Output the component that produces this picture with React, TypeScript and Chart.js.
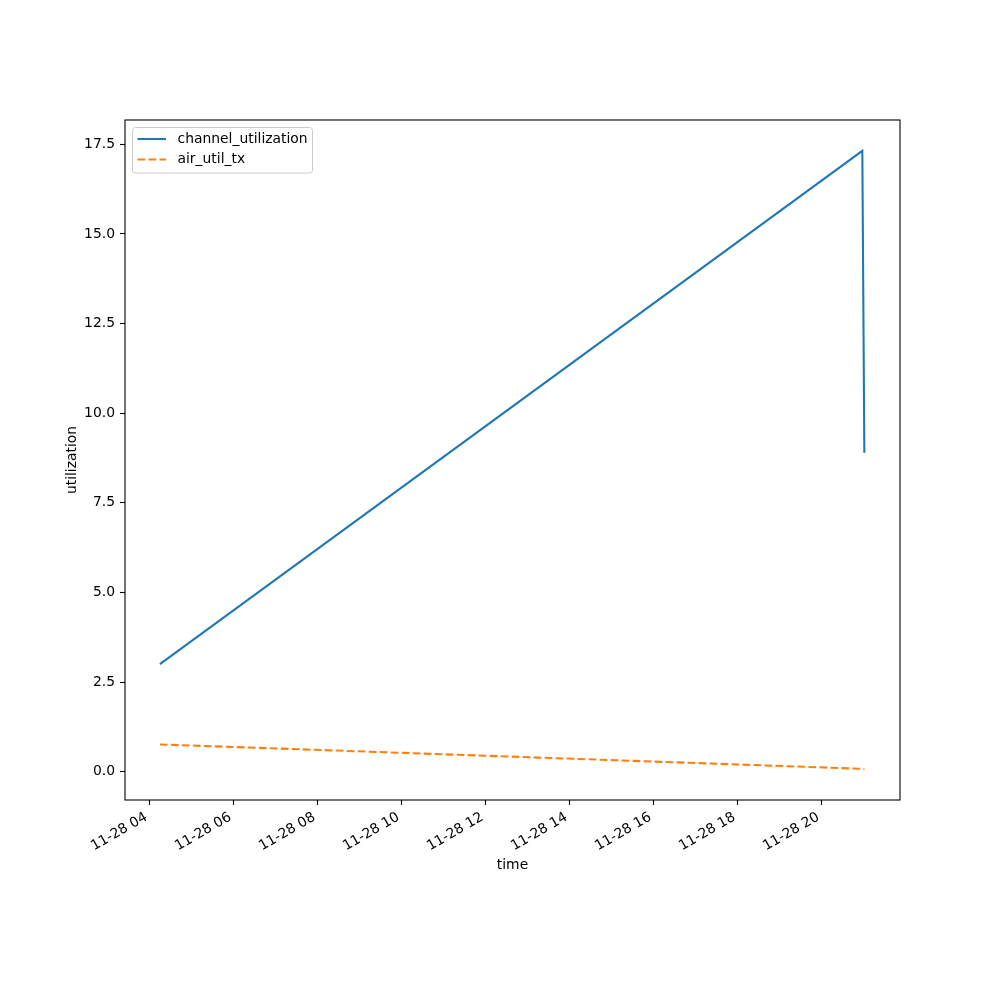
import React, { useEffect, useRef } from "react";
import { Chart, registerables } from "chart.js";

Chart.register(...registerables);

// ---- data ----
const timeHours = [4.252, 20.976, 21.024]; // hours of day on 11-28
const channelUtilization = [3.0, 17.32, 8.9];
const airUtilTx = [0.76, 0.08, 0.07];
const xTickHours = [4, 6, 8, 10, 12, 14, 16, 18, 20];
const yTickValues = [0, 2.5, 5, 7.5, 10, 12.5, 15, 17.5];
const datePrefix = "11-28";
const seriesNames = ["channel_utilization", "air_util_tx"];
const xAxisTitle = "time";
const yAxisTitle = "utilization";

const FONT = "'DejaVu Sans', sans-serif";
const FONT_SIZE = 13.9;
const BLUE = "#1f77b4";
const ORANGE = "#ff7f0e";

const pad2 = (n: number) => (n < 10 ? "0" + n : "" + n);

const framePlugin = {
  id: "frameAndLegend",
  afterDraw(chart: any) {
    const { ctx, chartArea } = chart;
    ctx.save();
    // axes frame
    ctx.strokeStyle = "#000";
    ctx.lineWidth = 1.1;
    ctx.strokeRect(
      chartArea.left,
      chartArea.top,
      chartArea.right - chartArea.left,
      chartArea.bottom - chartArea.top
    );
    // legend
    const bx = chartArea.left + 7.5;
    const by = chartArea.top + 7.5;
    const bw = 180;
    const bh = 45.5;
    const r = 3;
    ctx.beginPath();
    ctx.moveTo(bx + r, by);
    ctx.lineTo(bx + bw - r, by);
    ctx.arcTo(bx + bw, by, bx + bw, by + r, r);
    ctx.lineTo(bx + bw, by + bh - r);
    ctx.arcTo(bx + bw, by + bh, bx + bw - r, by + bh, r);
    ctx.lineTo(bx + r, by + bh);
    ctx.arcTo(bx, by + bh, bx, by + bh - r, r);
    ctx.lineTo(bx, by + r);
    ctx.arcTo(bx, by, bx + r, by, r);
    ctx.closePath();
    ctx.fillStyle = "rgba(255,255,255,0.8)";
    ctx.fill();
    ctx.strokeStyle = "#cccccc";
    ctx.lineWidth = 1;
    ctx.stroke();
    const ds = chart.data.datasets;
    ds.forEach((d: any, i: number) => {
      const y = by + 11.5 + i * 20.5;
      ctx.beginPath();
      ctx.strokeStyle = d.borderColor;
      ctx.lineWidth = d.borderWidth;
      ctx.setLineDash(d.borderDash || []);
      ctx.moveTo(bx + 5, y);
      ctx.lineTo(bx + 33.5, y);
      ctx.stroke();
      ctx.setLineDash([]);
      ctx.fillStyle = "#000";
      ctx.font = `${FONT_SIZE}px ${FONT}`;
      ctx.textAlign = "left";
      ctx.textBaseline = "middle";
      ctx.fillText(d.label, bx + 45, y);
    });
    ctx.restore();
  },
};

export default function App() {
  const canvasRef = useRef<HTMLCanvasElement | null>(null);

  useEffect(() => {
    if (!canvasRef.current) return;
    const chart = new Chart(canvasRef.current, {
      type: "line",
      data: {
        datasets: [
          {
            label: seriesNames[0],
            data: timeHours.map((t, i) => ({ x: t, y: channelUtilization[i] })),
            borderColor: BLUE,
            backgroundColor: BLUE,
            borderWidth: 2.08,
            pointRadius: 0,
            tension: 0,
            fill: false,
          },
          {
            label: seriesNames[1],
            data: timeHours.map((t, i) => ({ x: t, y: airUtilTx[i] })),
            borderColor: ORANGE,
            backgroundColor: ORANGE,
            borderWidth: 2.08,
            borderDash: [7.7, 3.3],
            pointRadius: 0,
            tension: 0,
            fill: false,
          },
        ],
      },
      options: {
        responsive: false,
        animation: false,
        events: [],
        layout: { padding: { left: 0, top: 120, right: 100, bottom: 0 } },
        plugins: {
          legend: { display: false },
          tooltip: { enabled: false },
          title: { display: false },
        },
        scales: {
          x: {
            type: "linear",
            min: 3.421,
            max: 21.873,
            afterFit: (axis: any) => {
              axis.height = 200;
            },
            afterBuildTicks: (axis: any) => {
              axis.ticks = xTickHours.map((v) => ({ value: v }));
            },
            grid: {
              drawOnChartArea: false,
              color: "rgba(0,0,0,0)",
              tickColor: "#000",
              tickLength: 5,
              tickWidth: 1.1,
            },
            border: { display: false },
            ticks: {
              autoSkip: false,
              minRotation: 30,
              maxRotation: 30,
              padding: 4,
              labelOffset: -3,
              color: "#000",
              font: { family: FONT, size: FONT_SIZE },
              callback: (v: any) => `${datePrefix} ${pad2(Number(v))}`,
            },
            title: {
              display: true,
              text: xAxisTitle,
              color: "#000",
              font: { family: FONT, size: FONT_SIZE },
              padding: { top: 0, bottom: 126.7 },
            },
          },
          y: {
            type: "linear",
            min: -0.79,
            max: 18.18,
            afterFit: (axis: any) => {
              axis.width = 125;
            },
            afterBuildTicks: (axis: any) => {
              axis.ticks = yTickValues.map((v) => ({ value: v }));
            },
            grid: {
              drawOnChartArea: false,
              color: "rgba(0,0,0,0)",
              tickColor: "#000",
              tickLength: 5,
              tickWidth: 1.1,
            },
            border: { display: false },
            ticks: {
              padding: 5,
              color: "#000",
              font: { family: FONT, size: FONT_SIZE },
              callback: (v: any) => Number(v).toFixed(1),
            },
            title: {
              display: true,
              text: yAxisTitle,
              color: "#000",
              font: { family: FONT, size: FONT_SIZE },
              padding: { top: 63.7, bottom: 0 },
            },
          },
        },
      },
      plugins: [framePlugin],
    });
    return () => chart.destroy();
  }, []);

  return (
    <div
      style={{
        position: "absolute",
        left: 0,
        top: 0,
        width: 1000,
        height: 1000,
        background: "#fff",
      }}
    >
      <canvas ref={canvasRef} width={1000} height={1000} />
    </div>
  );
}
